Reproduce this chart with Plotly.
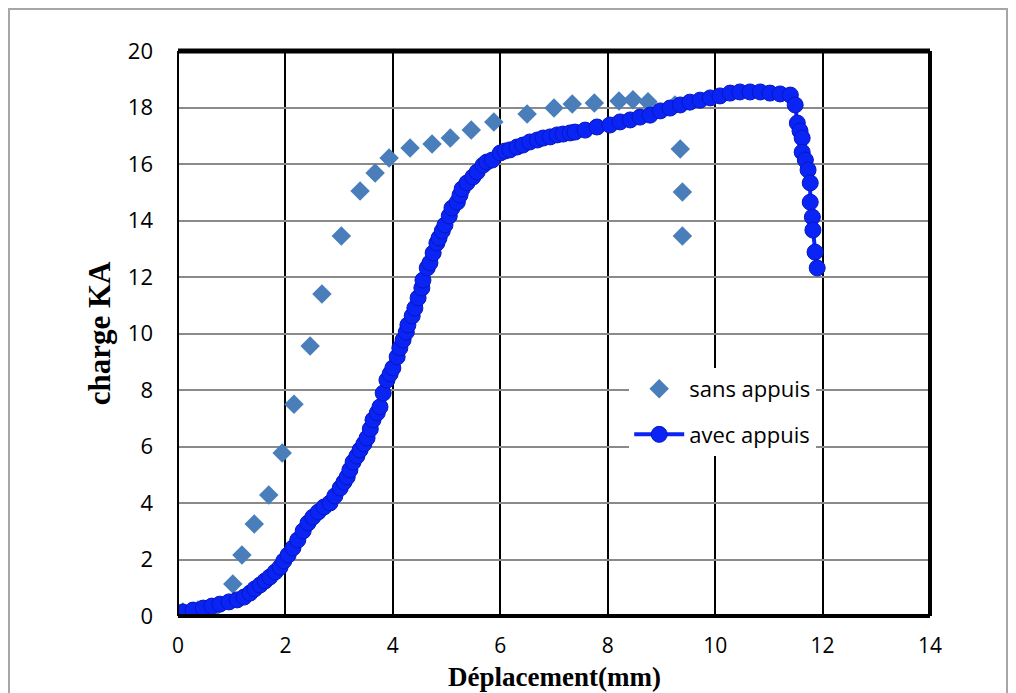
import plotly.graph_objects as go

# sans appuis (diamonds)
sans_x = [0.09, 0.37, 0.73, 1.02, 1.19, 1.42, 1.69, 1.94, 2.16, 2.46, 2.68, 3.04,
          3.39, 3.67, 3.93, 4.32, 4.73, 5.07, 5.46, 5.88, 6.50, 7.00, 7.34, 7.75,
          8.21, 8.47, 8.75, 9.25, 9.35, 9.39, 9.39]
sans_y = [0.14, 0.21, 0.35, 1.13, 2.16, 3.26, 4.28, 5.77, 7.50, 9.56, 11.40, 13.45,
          15.04, 15.68, 16.21, 16.57, 16.71, 16.92, 17.20, 17.49, 17.77, 17.98, 18.12, 18.16,
          18.23, 18.27, 18.20, 18.09, 16.53, 15.01, 13.45]

# avec appuis (line + circles)
avec_x = [0.09, 0.28, 0.47, 0.63, 0.78, 0.95, 1.10, 1.23, 1.34, 1.43, 1.53, 1.62,
          1.71, 1.81, 1.90, 1.97, 2.05, 2.14, 2.23, 2.33, 2.42, 2.51, 2.61, 2.72,
          2.83, 2.92, 3.02, 3.09, 3.15, 3.20, 3.26, 3.33, 3.39, 3.46, 3.52, 3.58,
          3.63, 3.71, 3.76, 3.82, 3.89, 3.95, 4.00, 4.08, 4.13, 4.19, 4.25, 4.28,
          4.36, 4.41, 4.47, 4.54, 4.56, 4.64, 4.69, 4.75, 4.82, 4.86, 4.92, 4.97,
          5.05, 5.10, 5.20, 5.25, 5.29, 5.38, 5.49, 5.57, 5.68, 5.75, 5.85, 6.00,
          6.09, 6.18, 6.31, 6.42, 6.55, 6.69, 6.80, 6.93, 7.06, 7.17, 7.30, 7.39,
          7.58, 7.80, 8.04, 8.23, 8.42, 8.60, 8.79, 8.98, 9.16, 9.35, 9.53, 9.72,
          9.91, 10.09, 10.28, 10.46, 10.65, 10.84, 11.02, 11.21, 11.40, 11.49, 11.53, 11.58,
          11.62, 11.62, 11.68, 11.73, 11.77, 11.77, 11.81, 11.82, 11.86, 11.90]
avec_y = [0.14, 0.21, 0.28, 0.35, 0.42, 0.50, 0.57, 0.67, 0.81, 0.96, 1.10, 1.24,
          1.38, 1.56, 1.73, 1.95, 2.16, 2.41, 2.69, 3.01, 3.29, 3.50, 3.68, 3.86,
          4.00, 4.25, 4.53, 4.74, 4.92, 5.17, 5.45, 5.66, 5.88, 6.09, 6.30, 6.62,
          6.94, 7.19, 7.40, 7.89, 8.35, 8.57, 8.78, 9.17, 9.49, 9.77, 10.05, 10.30,
          10.62, 10.90, 11.26, 11.61, 11.89, 12.32, 12.50, 12.85, 13.20, 13.38, 13.63, 13.84,
          14.16, 14.44, 14.65, 14.90, 15.12, 15.33, 15.54, 15.72, 15.96, 16.07, 16.14, 16.39,
          16.46, 16.50, 16.60, 16.67, 16.78, 16.85, 16.92, 16.96, 17.03, 17.06, 17.10, 17.13,
          17.20, 17.31, 17.38, 17.49, 17.56, 17.66, 17.73, 17.88, 17.98, 18.09, 18.19, 18.26,
          18.34, 18.41, 18.51, 18.55, 18.55, 18.55, 18.51, 18.48, 18.44, 18.09, 17.45, 17.17,
          16.92, 16.42, 16.14, 15.79, 15.33, 14.65, 14.12, 13.66, 12.88, 12.32]

x_ticks = [0, 2, 4, 6, 8, 10, 12, 14]
y_ticks = [0, 2, 4, 6, 8, 10, 12, 14, 16, 18, 20]

fig = go.Figure()
fig.add_trace(go.Scatter(
    x=sans_x, y=sans_y, mode="markers", name="sans appuis", legendgroup="a",
    marker=dict(symbol="diamond", size=15, color="#4a7ebb"),
))
fig.add_trace(go.Scatter(
    x=avec_x, y=avec_y, mode="lines+markers", name="avec appuis", legendgroup="b",
    line=dict(color="#0a24f5", width=4),
    marker=dict(symbol="circle", size=16, color="#0a24f5",
                line=dict(color="#0618c0", width=1)),
))

fig.update_layout(
    width=1000, height=685,
    margin=dict(l=170, r=78, t=43, b=77),
    paper_bgcolor="white", plot_bgcolor="white",
    showlegend=True,
    legend=dict(x=0.6, y=0.439, xanchor="left", yanchor="top",
                bgcolor="white", font=dict(family="Open Sans", size=22, color="black"),
                tracegroupgap=14, itemwidth=50),
    xaxis=dict(range=[0, 14], tickvals=x_ticks, showgrid=True,
               gridcolor="black", gridwidth=1.5, zeroline=False,
               tickfont=dict(family="Open Sans", size=21, color="black"),
               ticklabelstandoff=15, showline=False),
    yaxis=dict(range=[0, 20], tickvals=y_ticks, showgrid=True,
               gridcolor="#8a8a8a", gridwidth=2, zeroline=False,
               tickfont=dict(family="Open Sans", size=22, color="black"),
               ticklabelstandoff=24, showline=False),
    annotations=[
        dict(text="<b>Déplacement(mm)</b>", xref="paper", yref="paper",
             x=0.501, y=-0.108, xanchor="center", yanchor="middle",
             showarrow=False, font=dict(family="Liberation Serif", size=27, color="black")),
        dict(text="<b>charge KA</b>", xref="paper", yref="paper",
             x=-0.104, y=0.5, xanchor="center", yanchor="middle", textangle=-90,
             showarrow=False, font=dict(family="Liberation Serif", size=31, color="black")),
    ],
    shapes=[
        # outer chart frame
        dict(type="rect", xref="paper", yref="paper",
             x0=-0.2247, x1=1.1024, y0=-0.2, y1=1.0743,
             line=dict(color="#a6a6a6", width=2), layer="below"),
        # plot border
        dict(type="line", xref="paper", yref="paper", x0=0, x1=1, y0=1, y1=1,
             line=dict(color="black", width=5)),
        dict(type="line", xref="paper", yref="paper", x0=1, x1=1, y0=0, y1=1,
             line=dict(color="black", width=4)),
        dict(type="line", xref="paper", yref="paper", x0=0, x1=1, y0=0, y1=0,
             line=dict(color="black", width=4)),
        dict(type="line", xref="paper", yref="paper", x0=0, x1=0, y0=0, y1=1,
             line=dict(color="black", width=2)),
    ],
)

fig.write_html("out.html")
